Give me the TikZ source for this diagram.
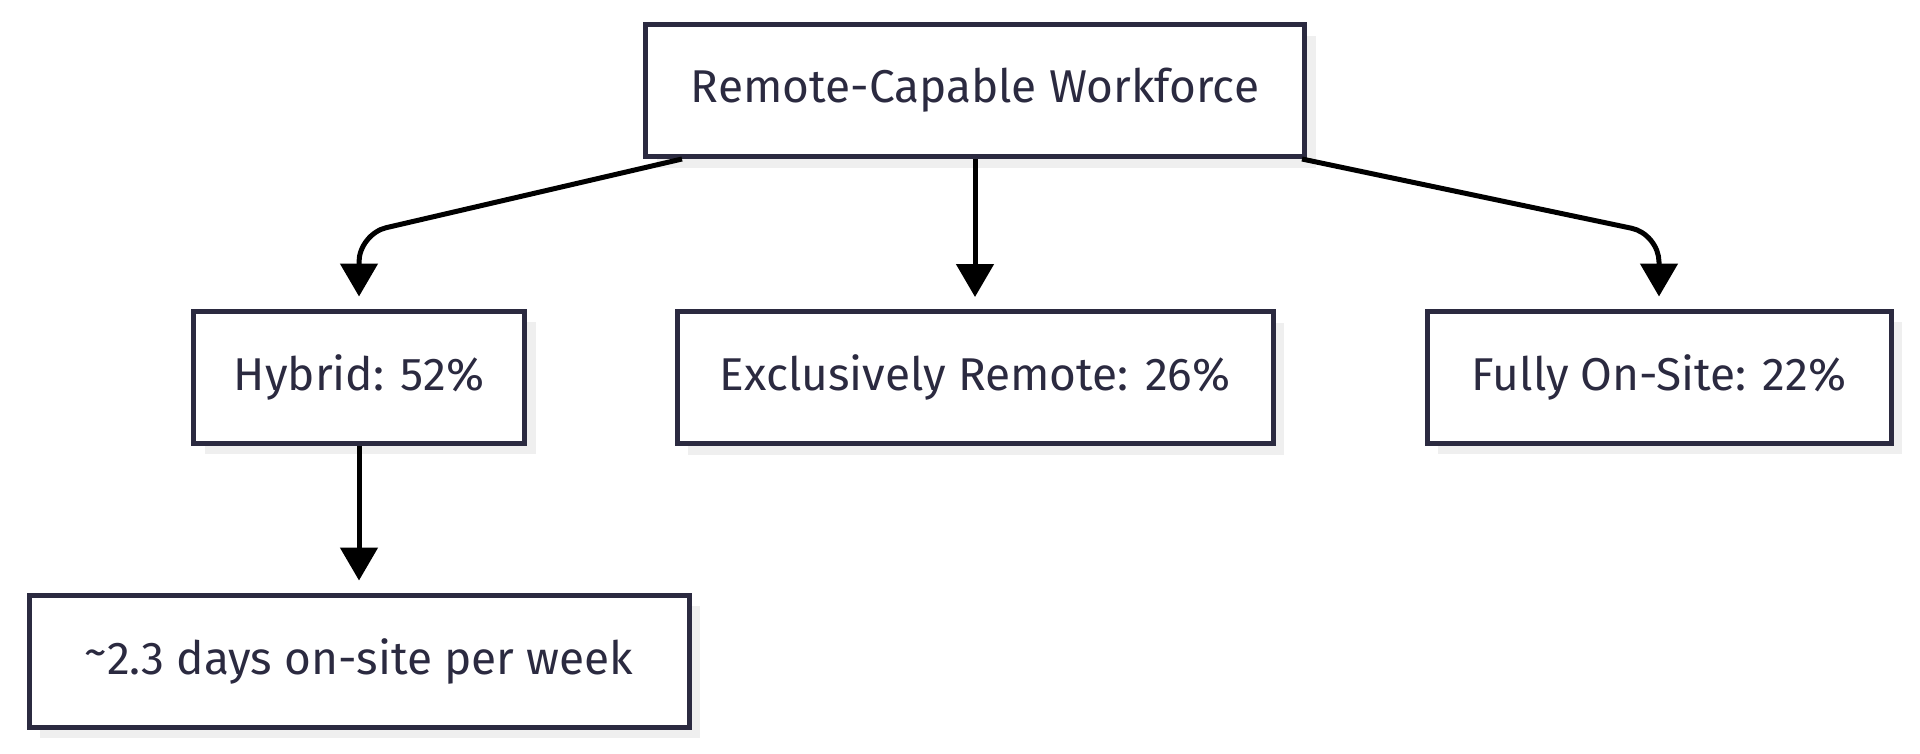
\documentclass[tikz,border=0pt]{standalone}
\usepackage{fontspec}
\setmainfont{Fira Sans}
\usetikzlibrary{arrows.meta,positioning,shadows}
\definecolor{ink}{HTML}{2B2A40}
\definecolor{shade}{HTML}{EFEFEF}
\tikzset{
    %Define standard arrow tip
    >={Triangle[length=33pt,width=37pt]},
    line width=5pt,
    box/.style={
      rectangle,
      draw=ink, line width=5pt,
      fill=white,
      text=ink,
      font=\fontsize{46}{54}\selectfont,
      minimum height=132pt,
      text centered,
      drop shadow={shadow xshift=11pt, shadow yshift=-11pt, fill=shade, opacity=1}},
    link/.style={
      ->, draw=black, line width=5pt,
      shorten >=12pt,
      rounded corners=28pt},
}

\begin{document}
\begin{tikzpicture}[x=1pt, y=-1pt, node distance=150pt]
    \useasboundingbox (0,0) rectangle (1920,753);
    \node (work) [box, minimum width=659pt] at (975,90.5)
          {Remote-Capable Workforce};
    \node (remote) [box, minimum width=596pt] [below=of work]
          {Exclusively Remote: 26\%}
          edge [link, <-, shorten >=0pt, shorten <=12pt] (work);
    \node (hybrid) [box, minimum width=331pt] at (359,377)
          {Hybrid: 52\%};
    \node (onsite) [box, minimum width=464pt] at (1659,377)
          {Fully On-Site: 22\%};
    \node (days) [box, minimum width=660pt] [below=147pt of hybrid]
          {\raisebox{0.15em}{\char"007E}2.3 days on-site per week}
          edge [link, <-, shorten >=0pt, shorten <=12pt] (hybrid);
    \coordinate (wl) at ([xshift=39pt]work.south west);
    \coordinate (wr) at ([xshift=-5pt]work.south east);
    \draw [link] (wl) -- (hybrid.north |- 0,234) -- (hybrid.north);
    \draw [link] (wr) -- (onsite.north |- 0,234) -- (onsite.north);
  \end{tikzpicture}
\end{document}
